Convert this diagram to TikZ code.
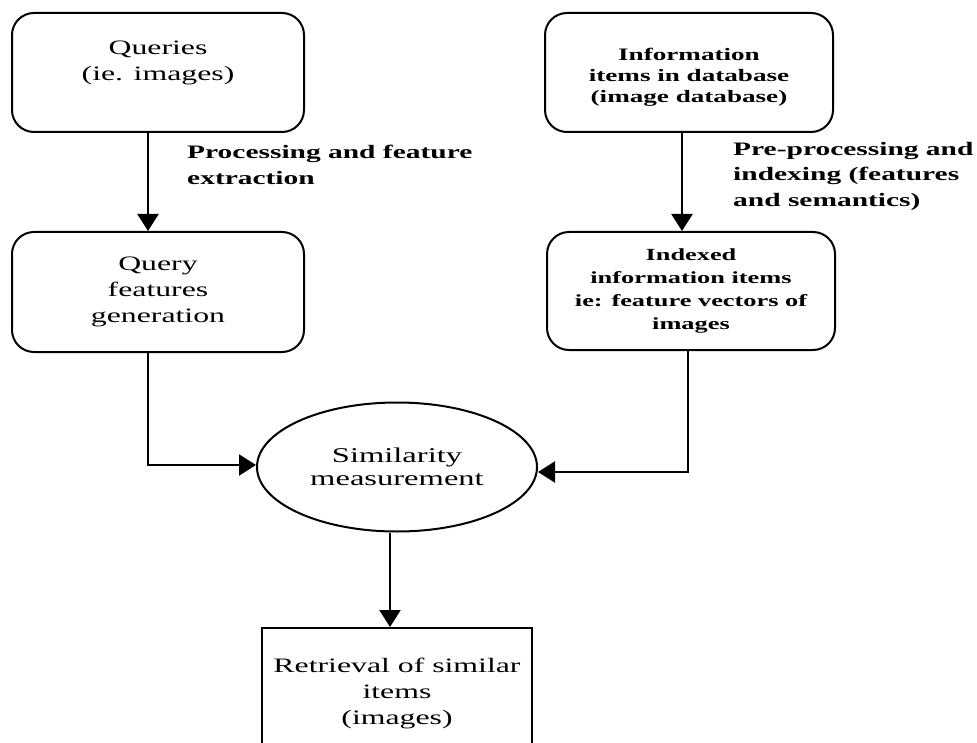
\documentclass[tikz,border=0pt]{standalone}
\usepackage{fontspec}
\setmainfont{Liberation Serif}[FakeStretch=1.55]
\usetikzlibrary{arrows.meta,shapes.geometric}
\begin{document}
\begin{tikzpicture}[x=1pt,y=-1pt,
  rbox/.style={draw,line width=2pt,rounded corners=22pt,inner sep=0pt},
  sbox/.style={draw,line width=2pt,inner sep=0pt},
  conn/.style={line width=2.3pt,-{Triangle[length=17pt,width=21pt]}},
  txt/.style={align=center,inner sep=0pt},
  lbl/.style={align=left,inner sep=0pt,anchor=west,font=\fontsize{19}{25.5}\selectfont\bfseries}]
\useasboundingbox (0,0) rectangle (977,743);
% boxes
\node[rbox,minimum width=292pt,minimum height=119pt] (q) at (158,72.5) {};
\node[txt,font=\fontsize{20.5}{25.5}\selectfont] (qt) at (158,63) {Queries\\(ie. images)};
\node[rbox,minimum width=292pt,minimum height=120pt,align=center,font=\fontsize{20.5}{26}\selectfont] (qf) at (158,292) {Query\\features\\generation};
\node[rbox,minimum width=288pt,minimum height=119pt] (info) at (689,72.5) {};
\node[txt,font=\fontsize{17.5}{21}\selectfont\bfseries] (infot) at (689,77) {Information\\items in database\\(image database)};
\node[rbox,minimum width=288pt,minimum height=118pt,align=center,font=\fontsize{17}{23.3}\selectfont\bfseries] (idx) at (691,291) {Indexed\\information items\\ie: feature vectors of\\images};
\node[ellipse,draw,line width=2pt,minimum width=280pt,minimum height=129pt,inner sep=0pt,align=center,font=\fontsize{21}{23.5}\selectfont] (sim) at (397,467) {Similarity\\measurement};
\node[sbox,minimum width=270pt,minimum height=130pt,align=center,font=\fontsize{20.5}{26}\selectfont] (ret) at (397,693) {Retrieval of similar\\items\\(images)};
% labels
\node[lbl] (l1) at (187,165) {Processing and feature\\extraction};
\node[lbl] (l2) at (733,176) {Pre-processing and\\indexing (features\\and semantics)};
% connectors
\draw[conn] ([xshift=-10pt]q.south) -- ([xshift=-10pt]qf.north);
\draw[conn] ([xshift=-7pt]info.south) -- ([xshift=-9pt]idx.north);
\draw[conn] ([xshift=-10pt]qf.south) |- ([yshift=2pt]sim.west);
\draw[conn] ([xshift=-3pt]idx.south) |- ([yshift=-5pt]sim.east);
\draw[conn] ([xshift=-7pt]sim.south) -- ([xshift=-7pt]ret.north);
\end{tikzpicture}
\end{document}
